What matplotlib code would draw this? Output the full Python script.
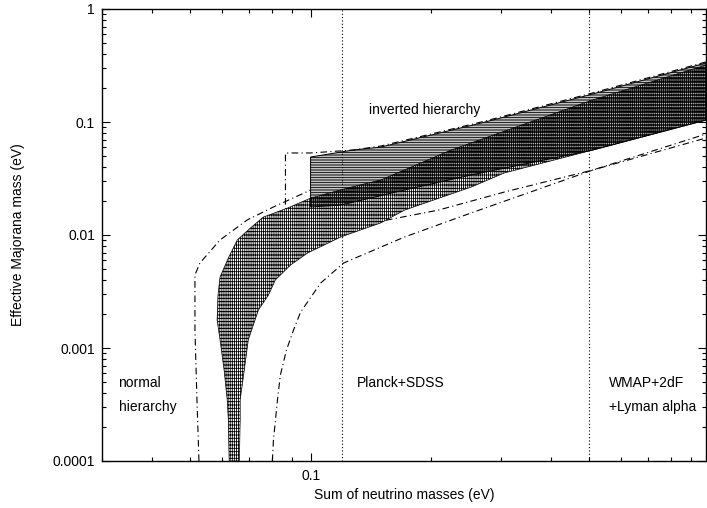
# Massa efetiva de Majorana vs soma das massas dos neutrinos
import numpy as np
import matplotlib.pyplot as plt

plt.rcParams['font.family'] = ['Liberation Sans', 'DejaVu Sans']
plt.rcParams['hatch.linewidth'] = 0.6

# banda hierarquia normal (borda esquerda/superior e direita/inferior)
nh_up_x = [0.0625, 0.0622, 0.0618, 0.0607, 0.0593, 0.0583, 0.0586, 0.0593, 0.0622,
           0.0655, 0.0706, 0.0761, 0.0875, 0.100, 0.124, 0.150, 0.225, 0.51, 0.98]
nh_up_y = [1e-4, 2.31e-4, 3.47e-4, 6.38e-4, 1.18e-3, 1.77e-3, 2.94e-3, 4.25e-3, 6.25e-3,
           9.04e-3, 0.0115, 0.0144, 0.0173, 0.0212, 0.0261, 0.0307, 0.0565, 0.157, 0.319]
nh_lo_x = [0.0663, 0.0666, 0.0666, 0.0682, 0.0698, 0.0740, 0.0784, 0.0816, 0.0891,
           0.0983, 0.119, 0.150, 0.172, 0.253, 0.306, 0.51, 0.98]
nh_lo_y = [1e-4, 2.31e-4, 3.47e-4, 6.38e-4, 1.18e-3, 2.17e-3, 2.94e-3, 4.0e-3, 5.43e-3,
           6.93e-3, 9.6e-3, 0.0128, 0.0166, 0.0266, 0.0354, 0.0565, 0.104]

# banda hierarquia invertida
ih_up_x = [0.100, 0.128, 0.150, 0.268, 0.51, 0.98]
ih_up_y = [0.049, 0.0565, 0.060, 0.098, 0.177, 0.333]
ih_lo_x = [0.100, 0.119, 0.172, 0.253, 0.51, 0.98]
ih_lo_y = [0.0177, 0.0184, 0.025, 0.034, 0.0565, 0.104]

# curvas traco-ponto (incertezas)
a_x = [0.0525, 0.0519, 0.0513, 0.0513, 0.0528, 0.0593, 0.0694, 0.0807, 0.100]
a_y = [1e-4, 3.47e-4, 1.44e-3, 4.43e-3, 5.65e-3, 9.04e-3, 0.0136, 0.0177, 0.025]
b_x = [0.98, 0.51, 0.268, 0.150, 0.128, 0.100, 0.0865, 0.0865, 0.128, 0.156, 0.209, 0.306, 0.51, 0.98]
b_y = [0.34, 0.181, 0.100, 0.0613, 0.0565, 0.0532, 0.0532, 0.0118, 0.0118, 0.0136, 0.0166, 0.024, 0.0376, 0.0783]
c_x = [0.0802, 0.0807, 0.0826, 0.0840, 0.0870, 0.0906, 0.0944, 0.106, 0.121, 0.172, 0.253, 0.51, 0.98]
c_y = [1e-4, 1.53e-4, 3.47e-4, 5.77e-4, 9.6e-4, 1.44e-3, 2.08e-3, 3.76e-3, 5.65e-3, 9.6e-3, 0.0157, 0.0376, 0.0722]

# limites cosmologicos
planck = 0.12
wmap = 0.5

fig = plt.figure(figsize=(7.07, 5.08), dpi=100)
ax = fig.add_axes([102/707, 1-461/508, 604/707, 452/508])
ax.set_xscale('log')
ax.set_yscale('log')

dashdot = (0, (6, 3, 1, 3))
ax.plot(a_x, a_y, color='black', lw=0.8, linestyle=dashdot, zorder=1)
ax.plot(b_x, b_y, color='black', lw=0.8, linestyle=dashdot, zorder=1)
ax.plot(c_x, c_y, color='black', lw=0.8, linestyle=dashdot, zorder=1)

ax.fill(nh_up_x + nh_lo_x[::-1], nh_up_y + nh_lo_y[::-1], facecolor='white',
        edgecolor='black', hatch='||||||||-----', lw=0.5, zorder=2)
ax.fill(ih_up_x + ih_lo_x[::-1], ih_up_y + ih_lo_y[::-1], facecolor='none',
        edgecolor='black', hatch='----------', lw=0.7, zorder=3)

ax.axvline(planck, color='black', lw=0.8, linestyle=(0, (1, 2)), zorder=4)
ax.axvline(wmap, color='black', lw=0.8, linestyle=(0, (1, 2)), zorder=4)

fs = 10
ax.text(0.140, 0.128, 'inverted hierarchy', fontsize=fs, va='center')
ax.text(0.0330, 4.9e-4, 'normal', fontsize=fs, va='center')
ax.text(0.0330, 3.0e-4, 'hierarchy', fontsize=fs, va='center')
ax.text(0.131, 4.9e-4, 'Planck+SDSS', fontsize=fs, va='center')
ax.text(0.56, 4.9e-4, 'WMAP+2dF', fontsize=fs, va='center')
ax.text(0.56, 3.0e-4, '+Lyman alpha', fontsize=fs, va='center')

ax.set_xlim(0.03, 0.98)
ax.set_ylim(1e-4, 1)
ax.set_xticks([0.1])
ax.set_xticklabels(['0.1'])
ax.set_xticks([0.03, 0.04, 0.05, 0.06, 0.07, 0.08, 0.09, 0.2, 0.3, 0.4, 0.5, 0.6, 0.7, 0.8, 0.9], minor=True)
ax.xaxis.set_minor_formatter(plt.NullFormatter())
ax.set_yticks([1e-4, 1e-3, 1e-2, 0.1, 1])
ax.set_yticklabels(['0.0001', '0.001', '0.01', '0.1', '1'])
ax.tick_params(which='both', direction='in', top=True, right=True, labelsize=fs, width=0.8)
ax.tick_params(which='major', length=6)
ax.tick_params(which='minor', length=3)
ax.tick_params(axis='x', pad=6)
ax.tick_params(axis='y', pad=5)
for s in ax.spines.values():
    s.set_linewidth(1.0)

ax.set_xlabel('Sum of neutrino masses (eV)', fontsize=fs)
ax.set_ylabel('Effective Majorana mass (eV)', fontsize=fs)
ax.xaxis.set_label_coords(0.5, -0.06)
ax.yaxis.set_label_coords(-0.128, 0.5)

plt.savefig('out.png', dpi=100)
